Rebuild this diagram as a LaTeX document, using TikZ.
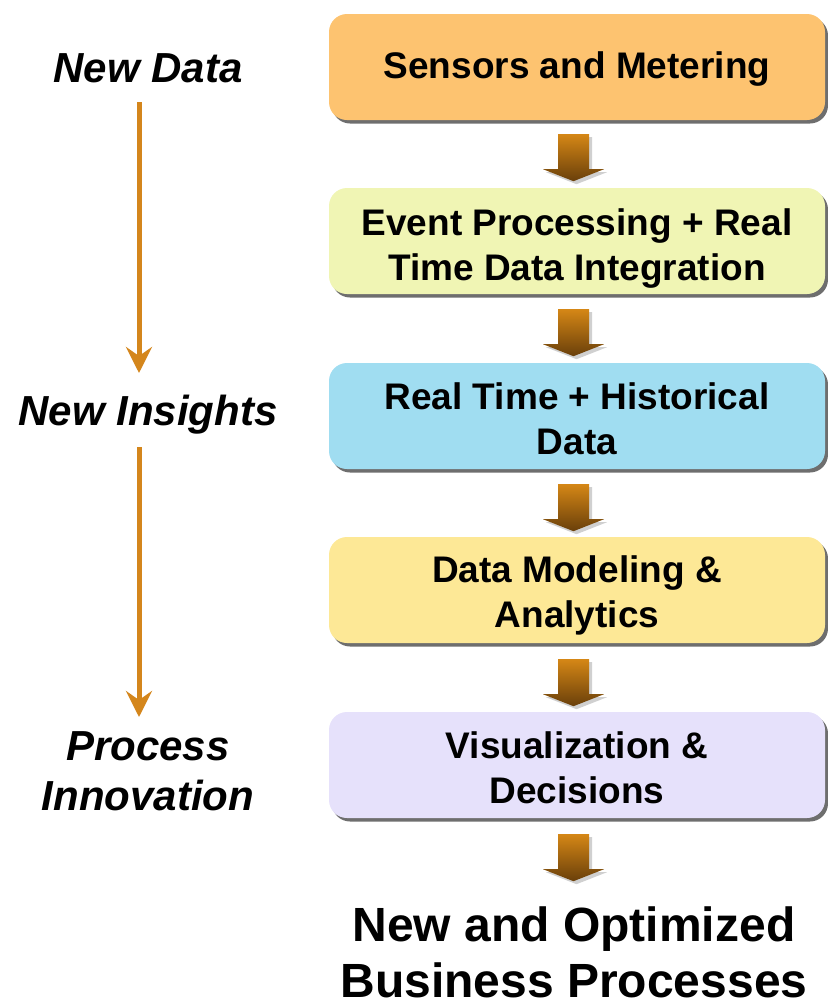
\documentclass[tikz,border=0pt]{standalone}
\usepackage{fontspec}
\setmainfont{Liberation Sans}
\usetikzlibrary{shadows,calc,arrows.meta}
\definecolor{cA}{RGB}{253,195,112}
\definecolor{cB}{RGB}{240,245,180}
\definecolor{cC}{RGB}{160,221,241}
\definecolor{cD}{RGB}{253,232,150}
\definecolor{cE}{RGB}{230,225,251}
\definecolor{arrtop}{RGB}{213,135,22}
\definecolor{arrbot}{RGB}{105,63,10}
\definecolor{arrshadow}{RGB}{208,208,208}
\definecolor{boxshadow}{RGB}{110,110,110}
\definecolor{flowc}{RGB}{212,134,28}
\newcommand\stacklines[2]{\vtop{\halign{\hfil##\hfil\cr#1\cr#2\cr}}}
\tikzset{
  stagebox/.style={rounded corners=18pt, minimum width=496pt, minimum height=106pt,
    inner sep=0pt, draw=none,
    drop shadow={shadow xshift=3pt, shadow yshift=-3.5pt, fill=boxshadow, opacity=1}},
  boxtext/.style={anchor=base, inner sep=0pt, font=\bfseries\fontsize{37}{45}\selectfont},
  sidetext/.style={anchor=base, inner sep=0pt, font=\bfseries\itshape\fontsize{42}{50}\selectfont},
  endtext/.style={anchor=base, inner sep=0pt, font=\bfseries\fontsize{48}{56}\selectfont},
  flow/.style={draw=flowc, line width=5pt, -{Stealth[length=26pt,width=26pt,inset=9pt]}},
  pics/blockarrow/.style={code={
    \fill[arrshadow] (-12.5,3) -- (18.5,3) -- (18.5,38) -- (33.5,38) -- (3,50) -- (-27.5,38) -- (-12.5,38) -- cycle;
    \shade[top color=arrtop, bottom color=arrbot] (-15.5,0) -- (15.5,0) -- (15.5,35) -- (30.5,35) -- (0,47) -- (-30.5,35) -- (-15.5,35) -- cycle;
  }}
}
\begin{document}
\begin{tikzpicture}[x=1pt,y=-1pt]
\useasboundingbox (0,0) rectangle (828,1005);
% stage boxes
\node[stagebox, fill=cA] (b1) at (577,67) {};
\node[stagebox, fill=cB] (b2) at (577,241) {};
\node[stagebox, fill=cC] (b3) at (577,416) {};
\node[stagebox, fill=cD] (b4) at (577,590) {};
\node[stagebox, fill=cE] (b5) at (577,765) {};
% box texts
\node[boxtext] (t1) at ($(b1.center)+(0,11)$) {Sensors and Metering};
\node[boxtext] (t2) at ($(b2.center)+(0,-6)$) {\stacklines{Event Processing + Real}{Time Data Integration}};
\node[boxtext] (t3) at ($(b3.center)+(0,-6.5)$) {\stacklines{Real Time + Historical}{Data}};
\node[boxtext] (t4) at ($(b4.center)+(0,-8)$) {\stacklines{Data Modeling \&}{Analytics}};
\node[boxtext] (t5) at ($(b5.center)+(0,-7)$) {\stacklines{Visualization \&}{Decisions}};
% final result
\node[endtext] (res) at (574,941) {\stacklines{New and Optimized}{Business Processes}};
% block arrows between stages
\pic at ($(b1.south)+(-3.5,14)$) {blockarrow};
\pic at ($(b2.south)+(-3.5,15)$) {blockarrow};
\pic at ($(b3.south)+(-3.5,15)$) {blockarrow};
\pic at ($(b4.south)+(-3.5,16)$) {blockarrow};
\pic at ($(b5.south)+(-3.5,16)$) {blockarrow};
% side labels
\node[sidetext] (nd) at (148,82) {New Data};
\node[sidetext] (ni) at (148,425) {New Insights};
\node[sidetext] (pi) at (148,760) {\stacklines{Process}{Innovation}};
\draw[flow] ($(nd.base)+(-9,20)$) -- ($(ni.base)+(-9,-52)$);
\draw[flow] ($(ni.base)+(-9,22)$) -- ($(pi.base)+(-9,-43)$);
\end{tikzpicture}
\end{document}
